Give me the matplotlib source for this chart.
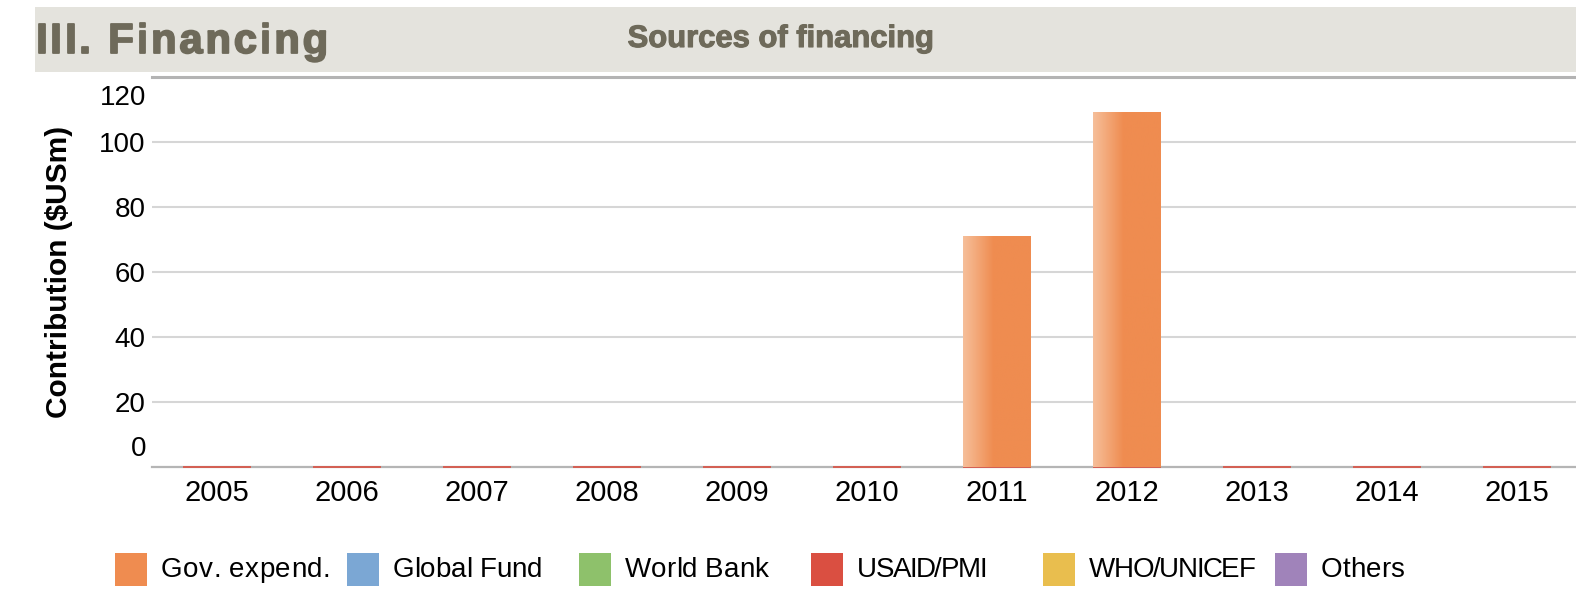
import numpy as np
import matplotlib
matplotlib.use("Agg")
import matplotlib.pyplot as plt
import matplotlib.font_manager as fm
import matplotlib.patheffects as pe
from matplotlib.ft2font import FT2Font
from matplotlib.patches import Rectangle
import matplotlib.colors as mcolors

plt.rcParams['font.family'] = ['Liberation Sans', 'DejaVu Sans']

# data
years = ['2005', '2006', '2007', '2008', '2009', '2010', '2011', '2012', '2013', '2014', '2015']
gov_expend = [0, 0, 0, 0, 0, 0, 70.8, 109.2, 0, 0, 0]
global_fund = [0] * 11
world_bank = [0] * 11
usaid_pmi = [0] * 11
who_unicef = [0] * 11
others = [0] * 11

sources = ['Gov. expend.', 'Global Fund', 'World Bank', 'USAID/PMI', 'WHO/UNICEF', 'Others']
source_colors = ['#EF8C50', '#7BA7D4', '#8EC16B', '#DA4F41', '#E9BE4E', '#A083BA']
y_ticks = [0, 20, 40, 60, 80, 100, 120]

W, H = 1576, 589
title_color = '#6E6A5A'

fig = plt.figure(figsize=(W / 100, H / 100), dpi=100)


def px(x, y):
    """pixel position (from top-left) -> figure fraction"""
    return x / W, 1 - y / H


# header band
x0, y0 = px(35, 72)
fig.patches.append(Rectangle((x0, y0), (W - 35) / W, 65 / H, transform=fig.transFigure,
                             facecolor='#E4E3DD', edgecolor='none', zorder=0))


def tracked_text(text, x, y, size, track, weight='normal', va='baseline', **kw):
    """draw text char by char with extra letter spacing (pixels)"""
    prop = fm.FontProperties(family='Liberation Sans', weight=weight, size=size)
    font = FT2Font(fm.findfont(prop))
    font.set_size(size, 100)
    for ch in text:
        fig.text(*px(x, y), ch, fontproperties=prop, ha='left', va=va, **kw)
        g = font.load_char(ord(ch))
        x += g.linearHoriAdvance / 65536 + track


heavy = [pe.withStroke(linewidth=1.3, foreground=title_color)]
tracked_text('III. Financing', 36, 53, 30, 2.9, weight='bold', color=title_color, path_effects=heavy)
fig.text(*px(781, 47), 'Sources of financing', fontsize=22.3, fontweight='bold',
         color=title_color, ha='center', va='baseline',
         path_effects=[pe.withStroke(linewidth=0.8, foreground=title_color)])

# axes
ax = fig.add_axes([152 / W, 1 - 466.7 / H, 1430 / W, 390 / H])
x = np.arange(len(years))
bw = 0.523

gov_bars = ax.bar(x, gov_expend, bw, color='none', linewidth=0, zorder=4)
bottom = np.array(gov_expend, dtype=float)
for vals, col in zip([global_fund, world_bank, usaid_pmi, who_unicef, others], source_colors[1:]):
    ax.bar(x, vals, bw, bottom=bottom, color=col, linewidth=0, zorder=4)
    bottom = bottom + np.array(vals)

# zero-valued USAID/PMI shows as a thin red line just on the baseline
ax.hlines(usaid_pmi, x - bw / 2, x + bw / 2, color=source_colors[3], linewidth=1.2,
          zorder=3, clip_on=False)

# gradient fill of the gov bars
light = np.array(mcolors.to_rgb('#F6BF9A'))
dark = np.array(mcolors.to_rgb(source_colors[0]))
t = np.clip(np.linspace(0, 1, 200) / 0.45, 0, 1)
grad = (light[None, :] + (dark - light)[None, :] * t[:, None])[None, :, :]
for p in gov_bars:
    if p.get_height() > 0:
        ax.imshow(grad, extent=(p.get_x(), p.get_x() + p.get_width(), 0, p.get_height()),
                  aspect='auto', zorder=4, interpolation='bilinear')

ax.set_xlim(-0.5, len(years) - 0.5)
ax.set_ylim(0, 120)

for s in ['left', 'right']:
    ax.spines[s].set_visible(False)
ax.spines['top'].set_color('#B3B3B3')
ax.spines['top'].set_linewidth(2.2)
ax.spines['bottom'].set_color('#B5B5B5')
ax.spines['bottom'].set_linewidth(1.6)
ax.spines['bottom'].set_zorder(2.5)

ax.set_yticks(y_ticks[1:-1])
ax.set_yticklabels([str(v) for v in y_ticks[1:-1]])
ax.yaxis.grid(True, color='#D6D6D6', linewidth=1.5, zorder=0)
ax.set_axisbelow(True)
ax.tick_params(axis='y', length=0, pad=4.5, labelsize=20)
# 0 and 120 labels sit off their lines
ax.annotate(str(y_ticks[0]), xy=(0, y_ticks[0]), xycoords=ax.get_yaxis_transform(),
            xytext=(-6, 18), textcoords='offset pixels', ha='right', va='center', fontsize=20)
ax.annotate(str(y_ticks[-1]), xy=(0, y_ticks[-1]), xycoords=ax.get_yaxis_transform(),
            xytext=(-6, -21), textcoords='offset pixels', ha='right', va='center', fontsize=20)

ax.set_xticks(x)
ax.set_xticklabels(years)
ax.tick_params(axis='x', length=0, pad=9, labelsize=21)

ax.set_ylabel('Contribution ($USm)', fontsize=21.5, fontweight='bold')
ax.yaxis.set_label_coords(-0.0552, 0.5)

# legend
legend_track = [0.4, -0.2, 0, -1.5, -1.4, 0]
for i, (name, col) in enumerate(zip(sources, source_colors)):
    lx = 115 + i * 232
    fig.patches.append(Rectangle(px(lx, 586), 32 / W, 33 / H, transform=fig.transFigure,
                                 facecolor=col, edgecolor='none'))
    tracked_text(name, lx + 46, 576.7, 20, legend_track[i])

fig.savefig('out.png', dpi=100)
